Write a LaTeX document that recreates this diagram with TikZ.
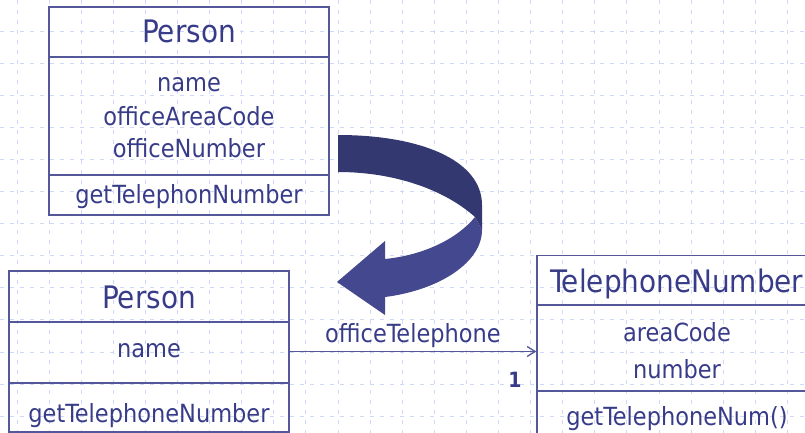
\documentclass[tikz,border=0pt]{standalone}
\usepackage{fontspec}
\setmainfont{DejaVu Sans Condensed}
\usetikzlibrary{arrows.meta}
\definecolor{ink}{RGB}{56,60,136}
\definecolor{frame}{RGB}{84,88,155}
\definecolor{gridc}{RGB}{208,216,250}
\definecolor{ribbondark}{RGB}{52,56,112}
\definecolor{ribbonlight}{RGB}{68,72,142}
\begin{document}
\begin{tikzpicture}[x=1pt,y=-1pt,
  classbox/.style={draw=frame,line width=1.3pt,minimum width=280pt,inner sep=0pt},
  classtitle/.style={text=ink,font=\fontsize{31}{31}\selectfont,anchor=base,inner sep=0pt},
  member/.style={text=ink,font=\fontsize{25}{25}\selectfont,anchor=base,inner sep=0pt},
  sep/.style={draw=frame,line width=1.3pt},
  gridline/.style={gridc,line width=0.9pt,dash pattern=on 4pt off 6pt}]
\useasboundingbox (0,0) rectangle (805,433);
\clip (0,0) rectangle (805,433);
\fill[white] (0,0) rectangle (805,433);

% dashed background grid
\foreach \k in {0,...,24} \draw[gridline] ({17+32.1*\k},0) -- ({17+32.1*\k},433);
\foreach \k in {0,...,12} \draw[gridline] (0,{31+32.1*\k}) -- (805,{31+32.1*\k});

% original Person class
\node[classbox,minimum height=208pt] (p1) at (189,111) {};
\draw[sep] (p1.west |- 0,57) -- (p1.east |- 0,57);
\draw[sep] (p1.west |- 0,175) -- (p1.east |- 0,175);
\node[classtitle] (p1t) at (189,43) {Person};
\node[member] (p1a) at (189,92) {name};
\node[member] (p1b) at (189,125) {officeAreaCode};
\node[member] (p1c) at (189,157) {officeNumber};
\node[member] (p1m) at (189,203) {getTelephonNumber};

% refactoring arrow (twisted ribbon)
\fill[ribbondark] (338,135) .. controls (420,135) and (482,160) .. (482,205)
  -- (482,230) -- (475,217) .. controls (445,190) and (395,172) .. (338,172) -- cycle;
\fill[ribbonlight] (475,217) -- (482,230) .. controls (482,262) and (440,290) .. (385,297)
  -- (385,315) -- (337,282) -- (385,241) -- (385,259)
  .. controls (425,255) and (458,238) .. (475,217) -- cycle;

% extracted Person class
\node[classbox,minimum height=161pt] (p2) at (149,351.5) {};
\draw[sep] (p2.west |- 0,322) -- (p2.east |- 0,322);
\draw[sep] (p2.west |- 0,383) -- (p2.east |- 0,383);
\node[classtitle] (p2t) at (149,308) {Person};
\node[member] (p2a) at (149,357) {name};
\node[member] (p2m) at (149,422) {getTelephoneNumber};

% TelephoneNumber class
\node[classbox,minimum height=192pt] (tn) at (677,351.5) {};
\draw[sep] (tn.west |- 0,305) -- (tn.east |- 0,305);
\draw[sep] (tn.west |- 0,391) -- (tn.east |- 0,391);
\node[classtitle,anchor=base west] (tnt) at (550,292) {TelephoneNumber};
\node[member] (tna) at (677,341) {areaCode};
\node[member] (tnb) at (677,378) {number};
\node[member] (tnm) at (677,425) {getTelephoneNum()};

% association
\draw[frame,line width=1.3pt,-{Straight Barb[length=8pt,width=10pt,line width=1.3pt]}] (p2.east) -- (tn.west);
\node[member,font=\fontsize{25}{25}\selectfont] (assoc) at (413,342) {officeTelephone};
\node[member,font=\fontsize{21}{21}\selectfont\bfseries] (mult) at (515,387) {1};
\end{tikzpicture}
\end{document}
